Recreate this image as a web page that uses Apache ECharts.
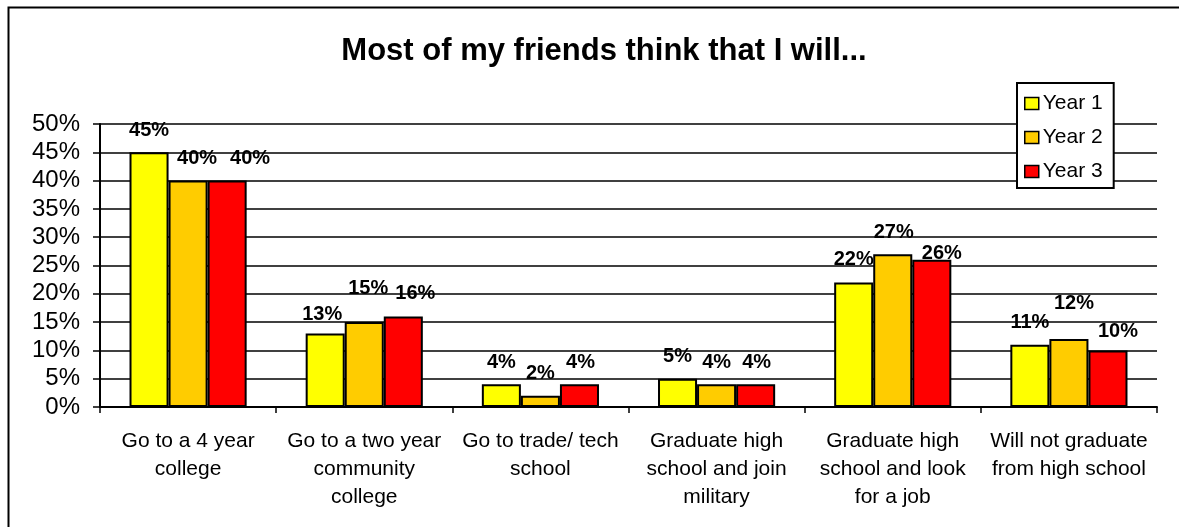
<!DOCTYPE html>
<html>
<head>
<meta charset="utf-8">
<script src="https://cdn.jsdelivr.net/npm/echarts@6/dist/echarts.min.js"></script>
<style>
  html, body { margin: 0; padding: 0; background: #fff; }
  #chart { width: 1179px; height: 527px; }
</style>
</head>
<body>
<div id="chart"></div>
<script>
// Survey answers, share of students per outcome
const categories = [
  'Go to a 4 year\ncollege',
  'Go to a two year\ncommunity\ncollege',
  'Go to trade/ tech\nschool',
  'Graduate high\nschool and join\nmilitary',
  'Graduate high\nschool and look\nfor a job',
  'Will not graduate\nfrom high school'
];
const seriesNames = ['Year 1', 'Year 2', 'Year 3'];
const year1 = [45, 13, 4, 5, 22, 11];
const year2 = [40, 15, 2, 4, 27, 12];
const year3 = [40, 16, 4, 4, 26, 10];
const yMin = 0, yMax = 50, yStep = 5;

const colors = ['#FFFF00', '#FFCC00', '#FF0000'];
// small nudges [dx, dy] so neighbouring value labels don't collide
const labelNudge = [
  [[0, 0], [-3, 3], [0, 0], [0, 0], [0, -1], [0, 0]],
  [[9, 0], [4, -12], [0, 0], [0, 0], [1, 0], [5, -14]],
  [[23, 0], [12, -1], [1, 0], [1, 0], [10, 16], [10, 3]]
];

const FONT = '"Liberation Sans", Arial, sans-serif';
const values = [year1, year2, year3];

const series = seriesNames.map((name, s) => ({
  name: name,
  type: 'bar',
  barGap: '0%',
  barCategoryGap: '33.5%',
  itemStyle: { color: colors[s], borderColor: '#000', borderWidth: 2 },
  label: {
    show: true,
    position: 'top',
    distance: 12,
    formatter: '{c}%',
    fontFamily: FONT,
    fontWeight: 'bold',
    fontSize: 20,
    color: '#000'
  },
  data: values[s].map((v, i) => ({ value: v, label: { offset: labelNudge[s][i] } }))
}));

const chart = echarts.init(document.getElementById('chart'), null, { renderer: 'canvas' });
chart.setOption({
  animation: false,
  backgroundColor: '#fff',
  title: {
    text: 'Most of my friends think that I will...',
    left: 599,
    top: 31,
    textAlign: 'center',
    textStyle: { fontFamily: FONT, fontWeight: 'bold', fontSize: 31, color: '#000' }
  },
  legend: {
    orient: 'vertical',
    left: 1017,
    top: 83,
    padding: [10, 11, 6, 7],
    itemGap: 13,
    itemWidth: 14,
    itemHeight: 12,
    icon: 'rect',
    backgroundColor: '#fff',
    borderColor: '#000',
    borderWidth: 2,
    borderRadius: 0,
    z: 10,
    itemStyle: { borderColor: '#000', borderWidth: 1.5 },
    textStyle: { fontFamily: FONT, fontSize: 21, color: '#000', padding: [0, 0, 0, -1] },
    data: seriesNames
  },
  grid: { left: 100, right: 22, top: 124, bottom: 120, containLabel: false },
  xAxis: {
    type: 'category',
    data: categories,
    boundaryGap: true,
    axisLine: { show: true, lineStyle: { color: '#000', width: 2 } },
    axisTick: { show: true, alignWithLabel: false, length: 6, lineStyle: { color: '#000', width: 1.5 } },
    axisLabel: {
      interval: 0,
      margin: 20,
      fontFamily: FONT,
      fontSize: 21,
      lineHeight: 28,
      color: '#000'
    },
    splitLine: { show: false }
  },
  yAxis: {
    type: 'value',
    min: yMin,
    max: yMax,
    interval: yStep,
    axisLine: { show: true, lineStyle: { color: '#000', width: 2 } },
    axisTick: { show: true, inside: false, length: 7, lineStyle: { color: '#000', width: 1.5 } },
    axisLabel: {
      formatter: '{value}%',
      margin: 20,
      padding: [6, 0, 0, 0],
      fontFamily: FONT,
      fontSize: 24,
      color: '#000'
    },
    splitLine: { show: true, lineStyle: { color: '#000', width: 1.5 } }
  },
  graphic: [{
    type: 'rect',
    left: 6,
    top: 5,
    shape: { width: 1260, height: 620 },
    style: { fill: 'none', stroke: '#000', lineWidth: 2 },
    silent: true,
    z: 100
  }],
  series: series
});
</script>
</body>
</html>
